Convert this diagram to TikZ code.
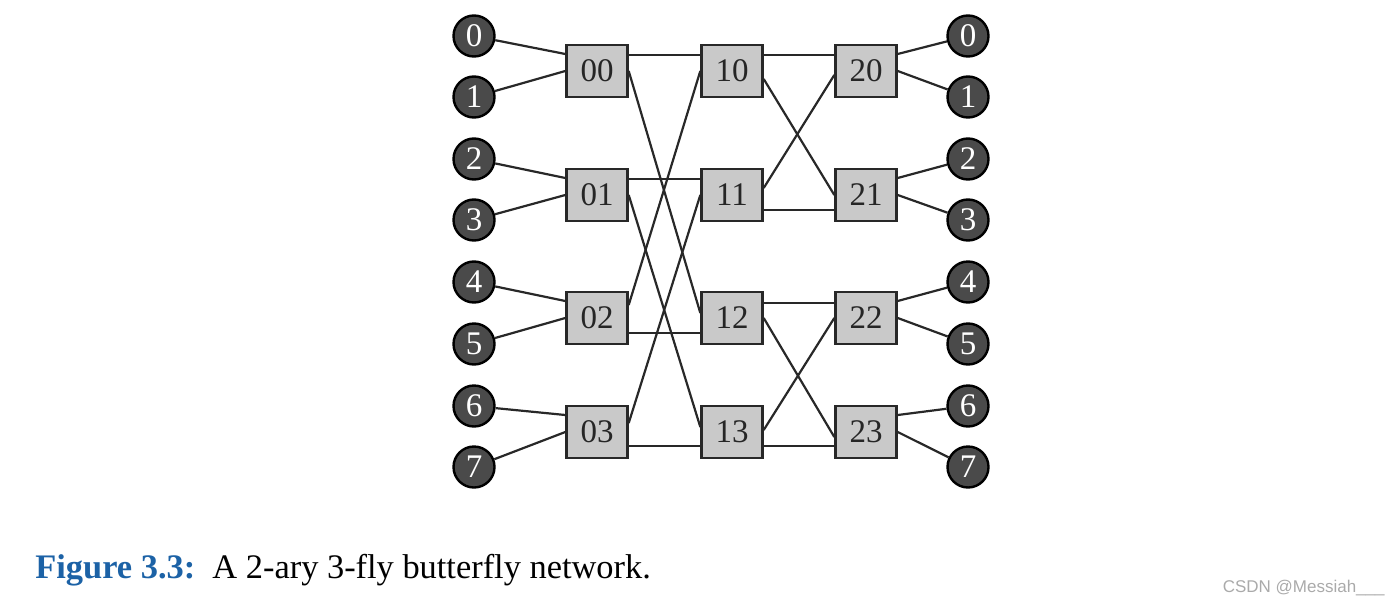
\documentclass[tikz,border=0pt]{standalone}
\usepackage{fontspec}
\setmainfont{Liberation Serif}
\newfontfamily\marksans{Liberation Sans}
\definecolor{boxgray}{RGB}{201,201,201}
\definecolor{termgray}{RGB}{74,74,74}
\definecolor{edgegray}{RGB}{40,40,40}
\definecolor{figblue}{RGB}{28,98,166}
\definecolor{markgray}{RGB}{170,170,170}

\begin{document}
\begin{tikzpicture}[x=0.5pt, y=-0.5pt,
  sw/.style={draw=edgegray, fill=boxgray, line width=1.2pt, rectangle, minimum width=30.5pt, minimum height=26pt, inner sep=0pt, text=black!85, font=\fontsize{16.5}{20}\selectfont},
  term/.style={draw=black, fill=termgray, circle, line width=1.2pt, minimum size=20.5pt, inner sep=0pt, text=white, font=\fontsize{16.5}{20}\selectfont},
  wire/.style={draw=edgegray, line width=1.1pt}]
\useasboundingbox (0,0) rectangle (1400,599);

% Input terminals
\node[term] (in0) at (474,36) {0};
\node[term] (in1) at (474,97) {1};
\node[term] (in2) at (474,159) {2};
\node[term] (in3) at (474,220) {3};
\node[term] (in4) at (474,282) {4};
\node[term] (in5) at (474,344) {5};
\node[term] (in6) at (474,406) {6};
\node[term] (in7) at (474,467) {7};

% Output terminals
\node[term] (out0) at (968,36) {0};
\node[term] (out1) at (968,97) {1};
\node[term] (out2) at (968,159) {2};
\node[term] (out3) at (968,220) {3};
\node[term] (out4) at (968,282) {4};
\node[term] (out5) at (968,344) {5};
\node[term] (out6) at (968,406) {6};
\node[term] (out7) at (968,467) {7};

% Switches, stage 0
\node[sw] (s00) at (597,71) {00};
\node[sw] (s01) at (597,195) {01};
\node[sw] (s02) at (597,318) {02};
\node[sw] (s03) at (597,432) {03};

% Switches, stage 1
\node[sw] (s10) at (732,71) {10};
\node[sw] (s11) at (732,195) {11};
\node[sw] (s12) at (732,318) {12};
\node[sw] (s13) at (732,432) {13};

% Switches, stage 2
\node[sw] (s20) at (866,71) {20};
\node[sw] (s21) at (866,195) {21};
\node[sw] (s22) at (866,318) {22};
\node[sw] (s23) at (866,432) {23};

% Inputs to stage 0
\draw[wire] (in0) -- ([yshift=8.5pt]s00.west);
\draw[wire] (in1) -- (s00.west);
\draw[wire] (in2) -- ([yshift=8.5pt]s01.west);
\draw[wire] (in3) -- (s01.west);
\draw[wire] (in4) -- ([yshift=8.5pt]s02.west);
\draw[wire] (in5) -- (s02.west);
\draw[wire] (in6) -- ([yshift=8.5pt]s03.west);
\draw[wire] (in7) -- (s03.west);

% Stage 0 to stage 1
\draw[wire] ([yshift=8pt]s00.east) -- ([yshift=8pt]s10.west);
\draw[wire] (s00.east) -- ([yshift=2.5pt]s12.west);
\draw[wire] ([yshift=8pt]s01.east) -- ([yshift=8pt]s11.west);
\draw[wire] (s01.east) -- ([yshift=2.5pt]s13.west);
\draw[wire] ([yshift=6.5pt]s02.east) -- (s10.west);
\draw[wire] ([yshift=-7.5pt]s02.east) -- ([yshift=-7.5pt]s12.west);
\draw[wire] ([yshift=4.5pt]s03.east) -- (s11.west);
\draw[wire] ([yshift=-7pt]s03.east) -- ([yshift=-7pt]s13.west);

% Stage 1 to stage 2
\draw[wire] ([yshift=8pt]s10.east) -- ([yshift=8pt]s20.west);
\draw[wire] ([yshift=-4pt]s10.east) -- (s21.west);
\draw[wire] ([yshift=3.5pt]s11.east) -- ([yshift=-2pt]s20.west);
\draw[wire] ([yshift=-7.5pt]s11.east) -- ([yshift=-7.5pt]s21.west);
\draw[wire] ([yshift=7.5pt]s12.east) -- ([yshift=7.5pt]s22.west);
\draw[wire] (s12.east) -- ([yshift=-2.5pt]s23.west);
\draw[wire] ([yshift=1pt]s13.east) -- (s22.west);
\draw[wire] ([yshift=-7pt]s13.east) -- ([yshift=-7pt]s23.west);

% Stage 2 to outputs
\draw[wire] ([yshift=8.5pt]s20.east) -- (out0);
\draw[wire] (s20.east) -- (out1);
\draw[wire] ([yshift=8.5pt]s21.east) -- (out2);
\draw[wire] (s21.east) -- (out3);
\draw[wire] ([yshift=8.5pt]s22.east) -- (out4);
\draw[wire] (s22.east) -- (out5);
\draw[wire] ([yshift=8.5pt]s23.east) -- (out6);
\draw[wire] (s23.east) -- (out7);

% Caption
\node[anchor=base west, inner sep=0pt, font=\fontsize{17.2}{21}\selectfont] (caption) at (35,578) {\textcolor{figblue}{\textbf{Figure 3.3:}}\ \ A 2-ary 3-fly butterfly network.};

% Watermark
\node[anchor=base east, inner sep=0pt, text=markgray, font=\marksans\fontsize{8.5}{10}\selectfont] (mark) at (1385,592) {CSDN @Messiah\_\_\_};
\end{tikzpicture}
\end{document}
